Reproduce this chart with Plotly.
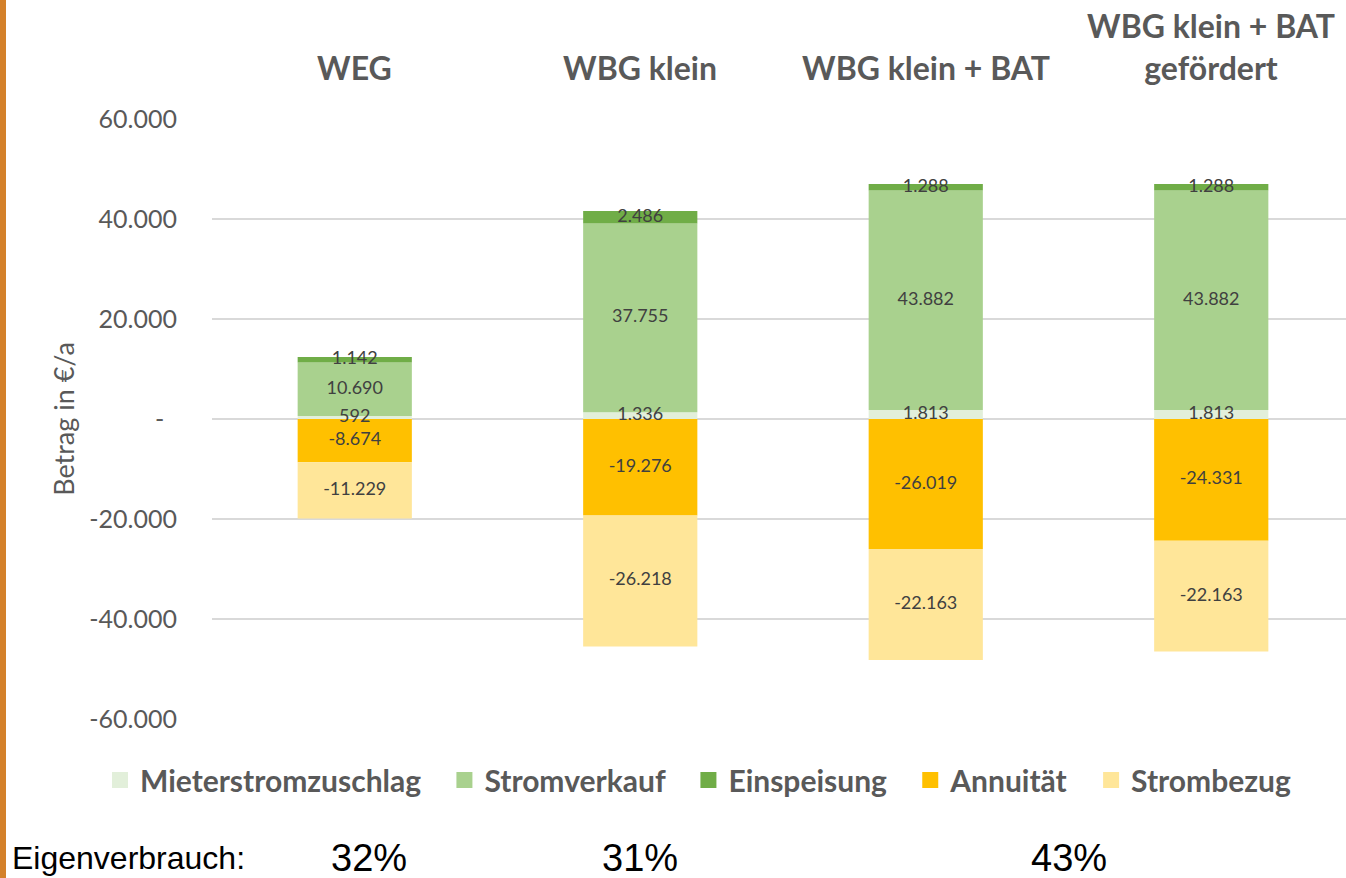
import plotly.graph_objects as go

categories = ["WEG", "WBG klein", "WBG klein + BAT", "WBG klein + BAT<br>gefördert"]
cat_ids = [0, 1, 2, 3]
series_names = ["Mieterstromzuschlag", "Stromverkauf", "Einspeisung", "Annuität", "Strombezug"]
mieterstromzuschlag = [592, 1336, 1813, 1813]
stromverkauf = [10690, 37755, 43882, 43882]
einspeisung = [1142, 2486, 1288, 1288]
annuitaet = [-8674, -19276, -26019, -24331]
strombezug = [-11229, -26218, -22163, -22163]
colors = ["#E2EFDA", "#A9D18E", "#70AD47", "#FFC000", "#FFE699"]

tick_vals = [-60000, -40000, -20000, 0, 20000, 40000, 60000]
tick_text = ["-60.000", "-40.000", "-20.000", "-\u00a0\u00a0", "20.000", "40.000", "60.000"]

eigen_label = "Eigenverbrauch:"
eigen_pos = [0.05, 1.0, 2.5]
eigen_vals = ["32%", "31%", "43%"]

W, H = 1346, 878
L, T, R, B = 212, 119, 0, 159
plot_w = W - L - R
plot_h = H - T - B


def py(p):
    return (H - B - p) / plot_h


all_series = [mieterstromzuschlag, stromverkauf, einspeisung, annuitaet, strombezug]

fig = go.Figure()
for name, vals, col in zip(series_names, all_series, colors):
    fig.add_trace(go.Bar(
        x=cat_ids, y=vals, name=name, marker=dict(color=col, line=dict(width=0)),
        width=0.4, hoverinfo="name+y", showlegend=False, legendgroup=name,
    ))

# legend entries with larger square symbols
n = len(series_names)
for k, (name, col) in enumerate(zip(series_names, colors)):
    label = name + ("\u00a0\u00a0\u2009" if k < n - 1 else "")
    fig.add_trace(go.Scatter(
        x=[None], y=[None], mode="markers", name=label, legendgroup=name,
        marker=dict(symbol="square", size=16, color=col, line=dict(width=0)),
    ))

# data labels on top of all bars, centred in each stacked segment
lab_x, lab_y, lab_v = [], [], []
for i in cat_ids:
    pos_base, neg_base = 0, 0
    for vals in all_series:
        v = vals[i]
        if v >= 0:
            lab_y.append(pos_base + v / 2)
            pos_base += v
        else:
            lab_y.append(neg_base + v / 2)
            neg_base += v
        lab_x.append(i)
        lab_v.append(v)
fig.add_trace(go.Scatter(
    x=lab_x, y=lab_y, customdata=lab_v, mode="text", texttemplate="%{customdata:,.0f}",
    textposition="middle center", showlegend=False, hoverinfo="skip", cliponaxis=False,
    textfont=dict(family="Lato, sans-serif", size=18, color="#404040"),
))

anns = []
for i, c in enumerate(categories):
    anns.append(dict(x=i, y=py(89), xref="x", yref="paper",
                     text="<b>" + c + "</b>", showarrow=False, yanchor="bottom", xanchor="center",
                     font=dict(family="Lato, sans-serif", size=32, color="#595959")))
anns.append(dict(x=(10 - L) / plot_w, y=py(858), xref="paper", yref="paper",
                 text=eigen_label, showarrow=False, xanchor="left", yanchor="middle",
                 font=dict(family="Liberation Sans, Arial, sans-serif", size=32, color="#000000")))
for xp, v in zip(eigen_pos, eigen_vals):
    anns.append(dict(x=xp, y=py(858), xref="x", yref="paper",
                     text=v, showarrow=False, xanchor="center", yanchor="middle",
                     font=dict(family="Liberation Sans, Arial, sans-serif", size=38, color="#000000")))

fig.update_layout(
    width=W, height=H, barmode="relative", separators=",.",
    margin=dict(l=L, r=R, t=T, b=B, autoexpand=False),
    paper_bgcolor="white", plot_bgcolor="white",
    showlegend=True,
    legend=dict(orientation="h", x=(100 - L) / plot_w, xanchor="left", y=py(780), yanchor="middle",
                font=dict(family="Lato, sans-serif", size=30, color="#595959", weight="bold"),
                itemwidth=30, traceorder="normal", itemclick=False, itemdoubleclick=False),
    annotations=anns,
    shapes=[dict(type="rect", xref="paper", yref="paper", xsizemode="pixel", xanchor=0,
                 x0=-L, x1=-L + 6, y0=-1, y1=2, fillcolor="#D4812A", line=dict(width=0), layer="above")],
)
fig.update_xaxes(range=[-0.5, 3.5 - (L + 4 * 285.5 - W) / 285.5], showticklabels=False,
                 showgrid=False, zeroline=False, showline=False, fixedrange=True)
fig.update_yaxes(range=[-60000, 60000], tickvals=tick_vals, ticktext=tick_text,
                 showgrid=True, gridcolor="#D9D9D9", gridwidth=1.5, zeroline=True,
                 zerolinecolor="#D9D9D9", zerolinewidth=1.5, showline=False,
                 ticks="", ticklabelstandoff=34,
                 tickfont=dict(family="Lato, sans-serif", size=25, color="#595959"),
                 title=dict(text="Betrag in €/a", standoff=6,
                            font=dict(family="Lato, sans-serif", size=27, color="#595959")))

fig.write_html("out.html", config={"displayModeBar": False},
               post_script="document.body.style.margin='0';document.body.style.overflow='hidden';")
